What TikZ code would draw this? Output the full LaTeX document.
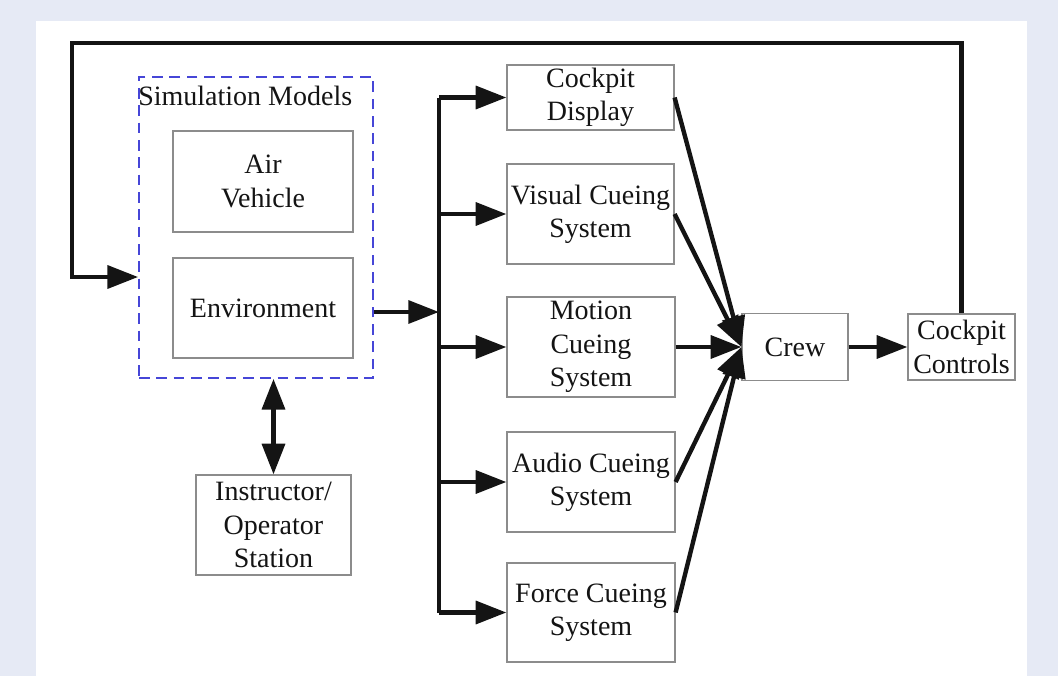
\documentclass[tikz,border=0pt]{standalone}
\usepackage{fontspec}
\setmainfont{Liberation Serif}
\usepackage{tikz}
\usetikzlibrary{arrows.meta, positioning, calc}
\definecolor{pagebg}{RGB}{230, 234, 245}
\definecolor{boxgray}{RGB}{140, 140, 140}
\definecolor{simblue}{RGB}{70, 70, 215}
\definecolor{inkdark}{RGB}{20, 20, 20}

\begin{document}
\begin{tikzpicture}[x=0.75pt, y=-0.75pt,
  blockbox/.style={draw=boxgray, line width=0.9pt, align=center, inner sep=0pt,
    text=inkdark, font=\fontsize{21}{25}\selectfont},
  flow/.style={line width=3.3pt, inkdark, -{Triangle[length=23pt, width=17pt]}},
  wire/.style={line width=3.3pt, inkdark}]

  % page
  \fill[pagebg] (0,0) rectangle (1058,676);
  \fill[white] (36,21) rectangle (1027,676);
  \useasboundingbox (0,0) rectangle (1058,676);

  % Simulation models
  \node[draw=simblue, dashed, dash pattern=on 8pt off 5pt, line width=1.3pt,
    minimum width=175.5pt, minimum height=225.75pt, inner sep=0pt] (sim) at (256,227.5) {};
  \node[anchor=base west, inner sep=0pt, text=inkdark, font=\fontsize{21}{25}\selectfont]
    (simlabel) at (138,105) {Simulation Models};
  \node[blockbox, minimum width=135pt, minimum height=75.75pt] (air) at (263,181.5) {Air\\Vehicle};
  \node[blockbox, minimum width=135pt, minimum height=75pt] (env) at (263,308) {Environment};

  % Instructor
  \node[blockbox, minimum width=116.25pt, minimum height=75pt] (inst) at (273.5,525)
    {Instructor/\\Operator\\Station};

  % Cueing systems
  \node[blockbox, minimum width=125.25pt, minimum height=48.75pt] (disp) at (590.5,97.5) {Cockpit\\Display};
  \node[blockbox, minimum width=125.25pt, minimum height=75pt] (vis) at (590.5,214) {Visual Cueing\\System};
  \node[blockbox, minimum width=126pt, minimum height=75pt] (mot) at (591,347) {Motion\\Cueing\\System};
  \node[blockbox, minimum width=126pt, minimum height=75pt] (aud) at (591,482) {Audio Cueing\\System};
  \node[blockbox, minimum width=126pt, minimum height=74.25pt] (force) at (591,612.5) {Force Cueing\\System};

  % Crew and controls
  \node[blockbox, minimum width=79.5pt, minimum height=50.25pt] (crew) at (795,347) {Crew};
  \node[blockbox, minimum width=80.25pt, minimum height=49.5pt] (ctrl) at (961.5,347) {Cockpit\\Controls};

  % bus
  \coordinate (bus) at (439,312);
  \draw[flow] (sim.east |- bus) -- (bus);
  \draw[wire] (bus |- disp.west) -- (bus |- force.west);
  \draw[flow] (bus |- disp.west) -- (disp.west);
  \draw[flow] (bus |- vis.west) -- (vis.west);
  \draw[flow] (bus |- mot.west) -- (mot.west);
  \draw[flow] (bus |- aud.west) -- (aud.west);
  \draw[flow] (bus |- force.west) -- (force.west);

  % to crew
  \draw[flow] (disp.east) -- (crew.west);
  \draw[flow] (vis.east) -- (crew.west);
  \draw[flow] (mot.east) -- (crew.west);
  \draw[flow] (aud.east) -- (crew.west);
  \draw[flow] (force.east) -- (crew.west);
  \draw[flow] (crew.east) -- (ctrl.west);

  % feedback loop
  \coordinate (loopcorner) at (72,43);
  \coordinate (loopin) at (72,277);
  \draw[flow] (ctrl.north) |- (loopcorner) -- (loopin) -- (sim.west |- loopin);

  % instructor link
  \draw[line width=3.3pt, inkdark, {Triangle[length=23pt, width=17pt]}-{Triangle[length=23pt, width=17pt]}]
    (inst.north |- sim.south) -- (inst.north);
\end{tikzpicture}
\end{document}
